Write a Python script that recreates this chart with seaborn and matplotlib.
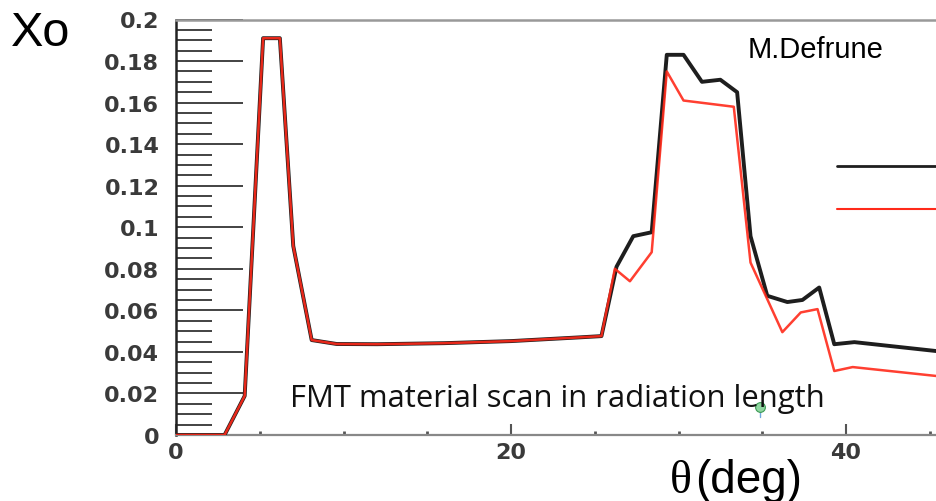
import matplotlib
matplotlib.use("Agg")
import matplotlib.pyplot as plt
import matplotlib.ticker as mticker
import numpy as np
import pandas as pd
import seaborn as sns

# Material budget (in radiation lengths X0) versus polar angle theta
theta_black = [0, 2.9, 4.1, 5.2, 6.2, 7.0, 8.1, 9.6, 12, 16, 20, 24.1, 25.4,
               26.3, 27.3, 28.4, 29.3, 30.3, 31.4, 32.5, 33.5, 34.3, 35.3,
               36.5, 37.4, 38.4, 39.3, 40.5, 45.4]
x0_black = [0, 0, 0.0188, 0.191, 0.191, 0.091, 0.0457, 0.0438, 0.0437, 0.0442,
            0.0452, 0.047, 0.0476, 0.081, 0.0957, 0.0976, 0.183, 0.183, 0.170,
            0.171, 0.165, 0.0957, 0.067, 0.064, 0.065, 0.071, 0.0437, 0.0447,
            0.0404]

theta_red = [0, 2.9, 4.1, 5.2, 6.2, 7.0, 8.1, 9.6, 12, 16, 20, 24.1, 25.4,
             26.2, 27.1, 28.4, 29.3, 30.3, 33.3, 34.3, 36.2, 37.3, 38.3, 39.3,
             40.4, 45.4]
x0_red = [0, 0, 0.0188, 0.191, 0.191, 0.091, 0.0457, 0.0438, 0.0437, 0.0442,
          0.0452, 0.047, 0.0476, 0.080, 0.074, 0.088, 0.175, 0.161, 0.158,
          0.083, 0.0495, 0.059, 0.0606, 0.0308, 0.0327, 0.0284]

y_ticks = [0, 0.02, 0.04, 0.06, 0.08, 0.1, 0.12, 0.14, 0.16, 0.18, 0.2]
y_tick_labels = ["0", "0.02", "0.04", "0.06", "0.08", "0.1", "0.12", "0.14",
                 "0.16", "0.18", "0.2"]
x_ticks = [0, 20, 40]
x_tick_labels = ["0", "20", "40"]

sns.set_theme(style="white")
plt.rcParams["font.family"] = ["Liberation Sans", "DejaVu Sans"]

W, H = 937, 502
fig = plt.figure(figsize=(W / 100, H / 100), dpi=100)
ax = fig.add_axes([176 / W, 1 - 436 / H, 1 - 176 / W, (436 - 20.5) / H])

black_df = pd.DataFrame({"theta": theta_black, "x0": x0_black})
red_df = pd.DataFrame({"theta": theta_red, "x0": x0_red})

sns.lineplot(data=black_df, x="theta", y="x0", ax=ax, sort=False,
             estimator=None, color="#1e1e1e", linewidth=2.8, zorder=3)
sns.lineplot(data=red_df, x="theta", y="x0", ax=ax, sort=False,
             estimator=None, color="#ff2a1a", linewidth=1.8, alpha=0.9,
             zorder=4)

ax.set_xlim(0, (W - 176) / 16.75)
ax.set_ylim(0, 0.2)
ax.set_xlabel("")
ax.set_ylabel("")

ax.yaxis.set_major_locator(mticker.FixedLocator(y_ticks))
ax.yaxis.set_major_formatter(mticker.FixedFormatter(y_tick_labels))
ax.yaxis.set_minor_locator(mticker.MultipleLocator(0.005))
ax.xaxis.set_major_locator(mticker.FixedLocator(x_ticks))
ax.xaxis.set_major_formatter(mticker.FixedFormatter(x_tick_labels))
ax.xaxis.set_minor_locator(mticker.MultipleLocator(5))

ax.tick_params(axis="y", which="major", direction="in", length=48, width=1.2,
               color="#222222", pad=12, labelcolor="#3a3a3a", left=True)
ax.tick_params(axis="y", which="minor", direction="in", length=26, width=1.2,
               color="#222222", left=True)
ax.tick_params(axis="x", which="major", direction="in", length=8, width=1.5,
               color="#555555", pad=5, labelcolor="#3a3a3a", bottom=True)
ax.tick_params(axis="x", which="minor", direction="in", length=3, width=2,
               color="#555555", bottom=True)
for lab in ax.get_yticklabels() + ax.get_xticklabels():
    lab.set_fontfamily("DejaVu Sans")
    lab.set_fontweight("bold")
    lab.set_fontsize(16)

ax.spines["right"].set_visible(False)
ax.spines["left"].set_color("#222222")
ax.spines["left"].set_linewidth(1.8)
ax.spines["bottom"].set_color("#888888")
ax.spines["bottom"].set_linewidth(1.6)
ax.spines["top"].set_color("#999999")
ax.spines["top"].set_linewidth(1.8)

# Legend line samples (labels run off the right edge)
ax.plot([0.8686, 1.0], [0.647, 0.647], transform=ax.transAxes,
        color="#1e1e1e", linewidth=2.0, clip_on=False)
ax.plot([0.8686, 1.0], [0.544, 0.544], transform=ax.transAxes,
        color="#ff2a1a", linewidth=1.5, clip_on=False)

# Annotations
fig.text(11 / W, 1 - 46 / H, "Xo", fontsize=35, color="black",
         family=["Liberation Sans", "DejaVu Sans"], ha="left", va="baseline")
fig.text(816 / W, 1 - 58 / H, "M.Defrune", fontsize=21, color="black",
         family=["Liberation Sans", "DejaVu Sans"], ha="center",
         va="baseline")
fig.text(290 / W, 1 - 407 / H, "FMT material scan in radiation length",
         fontsize=22.3, color="#111111", family=["Open Sans", "DejaVu Sans"],
         ha="left", va="baseline")
fig.text(681 / W, 1 - 493 / H, "\u03b8", fontsize=33, color="black",
         family=["Liberation Serif", "DejaVu Serif"], ha="center",
         va="baseline")
fig.text(695 / W, 1 - 493 / H, "(deg)", fontsize=33, color="black",
         family=["Liberation Sans", "DejaVu Sans"], ha="left",
         va="baseline")

# Small green pin marker near the caption
fig.add_artist(plt.Line2D([760 / W, 760 / W], [1 - 410 / H, 1 - 418 / H],
                          color="#6fa8dc", linewidth=1))
fig.add_artist(plt.Line2D([760 / W], [1 - 408 / H], marker="o",
                          markersize=7, markerfacecolor="#8fd6a0",
                          markeredgecolor="#3c9a55", markeredgewidth=0.8))

fig.savefig("out.png", dpi=100)
